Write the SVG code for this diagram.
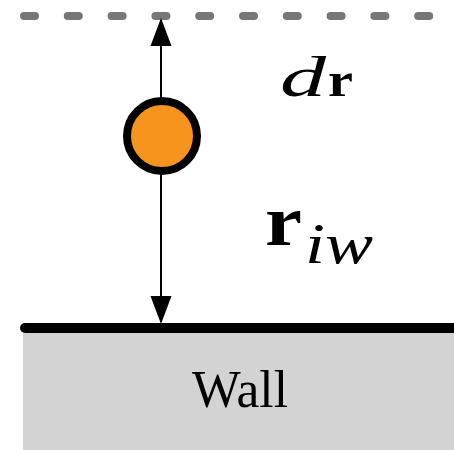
<svg xmlns="http://www.w3.org/2000/svg" width="454" height="450" viewBox="0 0 454 450">
  <style>
    text { font-family: 'Liberation Serif', 'Times New Roman', serif; fill: #000; }
    .it { font-style: italic; }
    .bf { font-weight: bold; }
    .conn { stroke: #000; stroke-width: 2; fill: none; }
    .head { fill: #000; stroke: none; }
  </style>
  <rect x="0" y="0" width="454" height="450" fill="#fff"/>
  <g id="boundary">
    <line x1="24" y1="16" x2="440" y2="16" stroke="#777" stroke-width="8" stroke-linecap="round" stroke-dasharray="11 32.8"/>
  </g>
  <g id="wall">
    <rect x="23" y="333" width="431" height="117" fill="#d3d3d3"/>
    <line x1="25" y1="328" x2="460" y2="328" stroke="#000" stroke-width="10" stroke-linecap="round"/>
    <text x="240" y="407" font-size="52" text-anchor="middle" textLength="96" lengthAdjust="spacingAndGlyphs">Wall</text>
  </g>
  <g id="connectors">
    <line class="conn" x1="161" y1="44" x2="161" y2="298"/>
    <polygon class="head" points="161,18 150.5,46 171.5,46"/>
    <polygon class="head" points="161,324 150.5,296 171.5,296"/>
  </g>
  <g id="particle">
    <circle cx="162" cy="136" r="35" fill="#F7941D" stroke="#000" stroke-width="8"/>
  </g>
  <g id="label-dr">
    <text class="it" x="280" y="96" font-size="56" textLength="46" lengthAdjust="spacingAndGlyphs">d</text>
    <text class="bf" x="328" y="96" font-size="48" textLength="25" lengthAdjust="spacingAndGlyphs">r</text>
  </g>
  <g id="label-riw">
    <text class="bf" x="265" y="245" font-size="72" textLength="37" lengthAdjust="spacingAndGlyphs">r</text>
    <text class="it" x="305" y="263" font-size="56" textLength="68" lengthAdjust="spacingAndGlyphs">iw</text>
  </g>
</svg>
